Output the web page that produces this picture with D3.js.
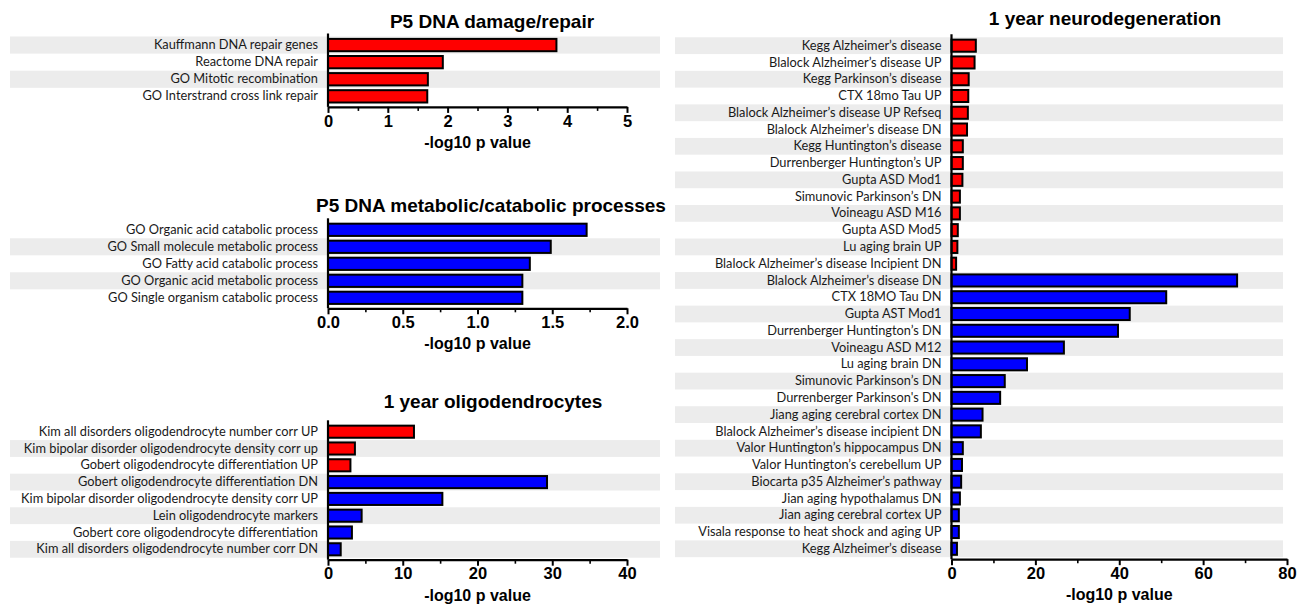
<!DOCTYPE html>
<html>
<head>
<meta charset="utf-8">
<script src="https://cdn.jsdelivr.net/npm/d3@7"></script>
<style>
  body { margin: 0; background: #fff; }
  svg { display: block; }
  .cat text { font-family: Lato, "Open Sans", sans-serif; font-size: 12.8px; fill: #1a1a1a; }
  .num text { font-family: "Liberation Sans", Arial, sans-serif; font-weight: bold; font-size: 16.5px; fill: #000; }
  .title { font-family: "Liberation Sans", Arial, sans-serif; font-weight: bold; font-size: 19px; fill: #000; }
  .xlabel { font-family: "Liberation Sans", Arial, sans-serif; font-weight: bold; font-size: 16px; fill: #000; }
</style>
</head>
<body>
<svg id="chart" width="1309" height="604"></svg>
<script>
// P5 DNA damage/repair
const damageLabels = ["Kauffmann DNA repair genes", "Reactome DNA repair", "GO Mitotic recombination", "GO Interstrand cross link repair"];
const damageValues = [3.82, 1.92, 1.67, 1.66];
const damageDirection = ["up", "up", "up", "up"];
const damageTicks = [0, 1, 2, 3, 4, 5];
const damageMinor = [0.5, 1.5, 2.5, 3.5, 4.5];

// P5 DNA metabolic/catabolic processes
const metabLabels = ["GO Organic acid catabolic process", "GO Small molecule metabolic process", "GO Fatty acid catabolic process", "GO Organic acid metabolic process", "GO Single organism catabolic process"];
const metabValues = [1.73, 1.49, 1.35, 1.30, 1.30];
const metabDirection = ["down", "down", "down", "down", "down"];
const metabTicks = [0, 0.5, 1.0, 1.5, 2.0];
const metabMinor = [0.25, 0.75, 1.25, 1.75];

// 1 year oligodendrocytes
const oligoLabels = ["Kim all disorders oligodendrocyte number corr UP", "Kim bipolar disorder oligodendrocyte density corr up", "Gobert oligodendrocyte differentiation UP", "Gobert oligodendrocyte differentiation DN", "Kim bipolar disorder oligodendrocyte density corr UP", "Lein oligodendrocyte markers", "Gobert core oligodendrocyte differentiation", "Kim all disorders oligodendrocyte number corr DN"];
const oligoValues = [11.5, 3.6, 3.0, 29.3, 15.3, 4.5, 3.2, 1.7];
const oligoDirection = ["up", "up", "up", "down", "down", "down", "down", "down"];
const oligoTicks = [0, 10, 20, 30, 40];
const oligoMinor = [5, 15, 25, 35];

// 1 year neurodegeneration
const neuroLabels = ["Kegg Alzheimer’s disease", "Blalock Alzheimer’s disease UP", "Kegg Parkinson’s disease", "CTX 18mo Tau UP", "Blalock Alzheimer’s disease UP Refseq", "Blalock Alzheimer’s disease DN", "Kegg Huntington’s disease", "Durrenberger Huntington’s UP", "Gupta ASD Mod1", "Simunovic Parkinson’s DN", "Voineagu ASD M16", "Gupta ASD Mod5", "Lu aging brain UP", "Blalock Alzheimer’s disease Incipient DN", "Blalock Alzheimer’s disease DN", "CTX 18MO Tau DN", "Gupta AST Mod1", "Durrenberger Huntington’s DN", "Voineagu ASD M12", "Lu aging brain DN", "Simunovic Parkinson’s DN", "Durrenberger Parkinson's DN", "Jiang aging cerebral cortex DN", "Blalock Alzheimer’s disease incipient DN", "Valor Huntington’s hippocampus DN", "Valor Huntington’s cerebellum UP", "Biocarta p35 Alzheimer’s pathway", "Jian aging hypothalamus DN", "Jian aging cerebral cortex UP", "Visala response to heat shock and aging UP", "Kegg Alzheimer’s disease"];
const neuroValues = [5.8, 5.5, 4.1, 4.0, 3.9, 3.7, 2.7, 2.7, 2.6, 2.0, 2.0, 1.5, 1.4, 1.1, 68.1, 51.2, 42.5, 39.7, 26.8, 18.0, 12.7, 11.6, 7.4, 7.0, 2.7, 2.5, 2.3, 2.0, 1.75, 1.75, 1.3];
const neuroDirection = ["up", "up", "up", "up", "up", "up", "up", "up", "up", "up", "up", "up", "up", "up", "down", "down", "down", "down", "down", "down", "down", "down", "down", "down", "down", "down", "down", "down", "down", "down", "down"];
const neuroTicks = [0, 20, 40, 60, 80];
const neuroMinor = [10, 30, 50, 70];

const svg = d3.select("#chart");
const colour = d3.scaleOrdinal().domain(["up", "down"]).range(["#ff0000", "#0000ff"]);

function drawPanel(p) {
    const n = p.labels.length;
    const g = svg.append("g");

    const x = d3.scaleLinear()
        .domain([0, p.max])
        .range([p.x0, p.x1]);

    const y = d3.scaleBand()
        .domain(d3.range(n))
        .range([p.top, p.top + n * p.rowH])
        .paddingInner(0.28)
        .paddingOuter(0.14);

    const rowBottom = p.top + n * p.rowH;
    const axisY = rowBottom + 2;

    // alternating grey rows
    g.selectAll("rect.stripe")
        .data(d3.range(n).filter(i => i % 2 === p.stripe))
        .enter()
        .append("rect")
        .attr("class", "stripe")
        .attr("x", p.bandX0)
        .attr("y", i => p.top + i * p.rowH)
        .attr("width", p.bandX1 - p.bandX0)
        .attr("height", p.rowH)
        .attr("fill", "#ececec");

    g.selectAll("rect.bar")
        .data(p.values)
        .enter()
        .append("rect")
        .attr("class", "bar")
        .attr("x", x(0))
        .attr("y", (d, i) => y(i))
        .attr("width", d => x(d) - x(0))
        .attr("height", y.bandwidth())
        .attr("fill", (d, i) => colour(p.direction[i]))
        .attr("stroke", "#000")
        .attr("stroke-width", 2);

    // category labels
    g.append("g")
        .attr("class", "cat")
        .attr("transform", `translate(${x(0)},0)`)
        .call(d3.axisLeft(y).tickSize(0).tickPadding(10).tickFormat(i => p.labels[i]))
        .call(a => a.select(".domain").remove());

    // left axis line
    g.append("line")
        .attr("x1", x(0)).attr("x2", x(0))
        .attr("y1", p.top - 3).attr("y2", axisY)
        .attr("stroke", "#000")
        .attr("stroke-width", 2.2);

    // minor ticks
    g.append("g")
        .attr("transform", `translate(0,${axisY})`)
        .call(d3.axisBottom(x).tickValues(p.minor).tickSize(4).tickFormat(""))
        .call(a => a.select(".domain").remove())
        .call(a => a.selectAll("line").attr("stroke", "#000").attr("stroke-width", 1.6));

    // major ticks + labels
    g.append("g")
        .attr("class", "num")
        .attr("transform", `translate(0,${axisY})`)
        .call(d3.axisBottom(x).tickValues(p.ticks).tickSize(6).tickSizeOuter(0).tickPadding(2).tickFormat(p.format))
        .call(a => a.select(".domain").attr("stroke", "#000").attr("stroke-width", 2.2))
        .call(a => a.selectAll("line").attr("stroke", "#000").attr("stroke-width", 2));

    g.append("text")
        .attr("class", "xlabel")
        .attr("x", (p.x0 + p.x1) / 2)
        .attr("y", axisY + 41)
        .attr("text-anchor", "middle")
        .text("-log10 p value");

    g.append("text")
        .attr("class", "title")
        .attr("x", p.titleX)
        .attr("y", p.titleY)
        .attr("text-anchor", "middle")
        .attr("dy", "0.35em")
        .text(p.title);
}

drawPanel({
    title: "P5 DNA damage/repair", labels: damageLabels, values: damageValues, direction: damageDirection,
    ticks: damageTicks, minor: damageMinor, max: 5, format: d3.format("d"),
    x0: 328, x1: 627, top: 36.5, rowH: 17.1, bandX0: 10, bandX1: 660, stripe: 0,
    titleX: 492, titleY: 21
});

drawPanel({
    title: "P5 DNA metabolic/catabolic processes", labels: metabLabels, values: metabValues, direction: metabDirection,
    ticks: metabTicks, minor: metabMinor, max: 2, format: d3.format(".1f"),
    x0: 328, x1: 627, top: 221.3, rowH: 17, bandX0: 10, bandX1: 660, stripe: 1,
    titleX: 491, titleY: 205
});

drawPanel({
    title: "1 year oligodendrocytes", labels: oligoLabels, values: oligoValues, direction: oligoDirection,
    ticks: oligoTicks, minor: oligoMinor, max: 40, format: d3.format("d"),
    x0: 328, x1: 627, top: 423.3, rowH: 16.8, bandX0: 10, bandX1: 660, stripe: 1,
    titleX: 493, titleY: 401
});

drawPanel({
    title: "1 year neurodegeneration", labels: neuroLabels, values: neuroValues, direction: neuroDirection,
    ticks: neuroTicks, minor: neuroMinor, max: 80, format: d3.format("d"),
    x0: 951.5, x1: 1287, top: 37.3, rowH: 16.77, bandX0: 675, bandX1: 1283, stripe: 0,
    titleX: 1105, titleY: 18
});
</script>
</body>
</html>
